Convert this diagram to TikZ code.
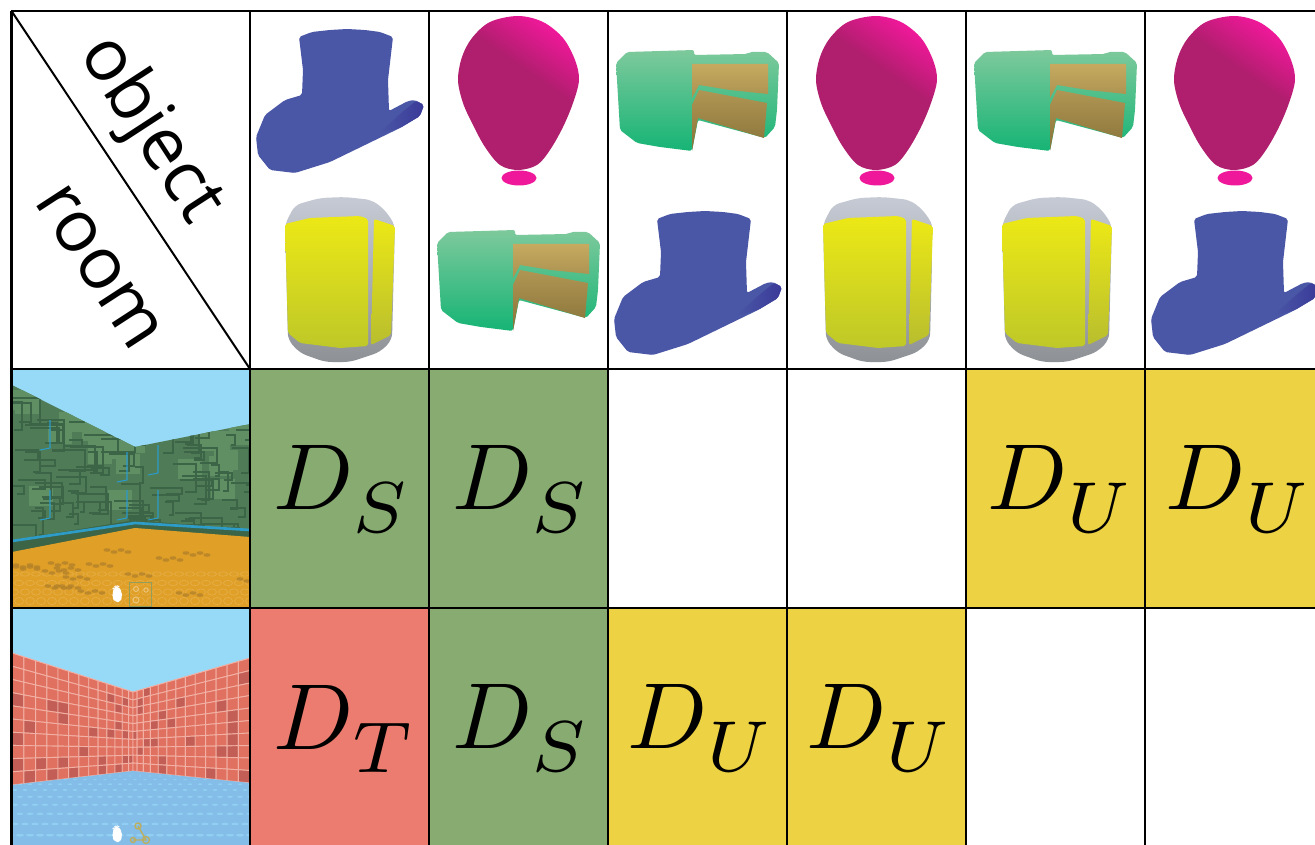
\documentclass[tikz,border=0pt]{standalone}
\usepackage{fontspec}
\usepackage{graphicx}
\newfontfamily\labelfont{Open Sans}
\definecolor{cellgreen}{HTML}{88AB72}
\definecolor{cellred}{HTML}{EC7C70}
\definecolor{cellyellow}{HTML}{EDD344}
\definecolor{hatblue}{HTML}{4A57A6}
\definecolor{hatdark}{HTML}{3A3A98}
\definecolor{sky}{HTML}{97DAF8}
\definecolor{tile}{HTML}{E0705F}
\definecolor{tiledark}{HTML}{C25E55}
\definecolor{tileline}{HTML}{F2B0A4}
\definecolor{wallgreen}{HTML}{5F8F62}
\definecolor{walldark}{HTML}{3C6446}
\definecolor{wallmid}{HTML}{4F7C56}
\definecolor{floorgold}{HTML}{E0A028}
\definecolor{floordark}{HTML}{B07F28}
\definecolor{floorblue}{HTML}{83BDE8}
\definecolor{balldark}{HTML}{B01E6E}
\definecolor{ballpink}{HTML}{F0189A}
\definecolor{stripblue}{HTML}{2E9CC8}
\pgfdeclareverticalshading{ballsh}{100bp}{color(0bp)=(balldark); color(58bp)=(balldark); color(76bp)=(ballpink); color(100bp)=(ballpink)}
\tikzset{
  x=0.75pt,y=-0.75pt,
  gridline/.style={draw=black,line width=1.7pt},
  dlabel/.style={anchor=base west,scale=7.03,inner sep=0pt,outer sep=0pt},
  hlabel/.style={font=\labelfont\fontsize{54}{54}\selectfont,inner sep=0pt,text=black},
  icon/.style={rounded corners=1.5pt},
}
\newcommand{\dtext}[1]{$D$\kern-0.1pt\raisebox{-2.5pt}{\scalebox{1.1}{$\scriptstyle #1$}}}
\newcommand{\drawtophat}[2]{\begin{scope}[shift={(#1,#2)}]
  \fill[hatblue,icon] (299,37)--(312,32)--(330,30)--(347,29)--(365,30)--(380,32)--(393,37)--(388,80)--(389,111)--(408,101)--(415,100)--(424,105)--(420,116)--(400,128)--(330,162)--(295,173)--(270,170)--(258,155)--(256,137)--(265,115)--(285,100)--(302,95)--(303,70)--cycle;
  \shade[left color=hatblue,right color=hatdark,icon] (378,134)--(400,114)--(416,101)--(424,105)--(420,116)--(400,128)--cycle;
\end{scope}}
\newcommand{\drawballoon}[2]{\begin{scope}[shift={(#1,#2)}]
  \shade[shading=ballsh,shading angle=-35] plot[smooth cycle,tension=0.55] coordinates {(518,16)(543,22)(563,38)(575,60)(579,80)(573,103)(563,127)(550,150)(537,165)(518,170)(500,165)(485,147)(473,125)(463,103)(458,80)(462,57)(472,38)(490,22)};
  \fill[ballpink] (519,178) ellipse [x radius=17.5,y radius=7.5];
\end{scope}}
\newcommand{\drawcake}[2]{\begin{scope}[shift={(#1,#2)}]
  \shade[top color={rgb,255:red,125;green,201;blue,156},bottom color={rgb,255:red,22;green,180;blue,117},icon] (616,63)--(627,52)--(694,50)--(694,55)--(747,54)--(750,52)--(767,52)--(779,63)--(777,110)--(775,127)--(765,138)--(698,120)--(692,151)--(660,147)--(637,143)--(620,130)--cycle;
  \shade[top color={rgb,255:red,198;green,170;blue,96},bottom color={rgb,255:red,170;green,145;blue,80}] (692,64)--(768,64)--(768,94)--(730,90)--(699,85)--(692,98)--cycle;
  \shade[top color={rgb,255:red,176;green,150;blue,84},bottom color={rgb,255:red,136;green,114;blue,56}] (699,90)--(767,103)--(764,138)--(698,118)--(692,151)--(692,105)--cycle;
\end{scope}}
\newcommand{\drawcan}[2]{\begin{scope}[shift={(#1,#2)}]
  \shade[top color={rgb,255:red,198;green,202;blue,212},bottom color={rgb,255:red,142;green,146;blue,150},rounded corners=5pt] (285,224)--(295,205)--(320,198)--(345,197)--(372,200)--(385,210)--(395,225)--(392,340)--(380,352)--(350,362)--(325,362)--(300,353)--(288,340)--cycle;
  \shade[top color={rgb,255:red,236;green,232;blue,22},bottom color={rgb,255:red,190;green,200;blue,40},icon] (285,224)--(310,218)--(360,216)--(368,219)--(368,346)--(340,348)--(300,343)--(288,333)--cycle;
  \shade[top color={rgb,255:red,236;green,232;blue,22},bottom color={rgb,255:red,184;green,190;blue,46},icon] (374,219)--(395,226)--(391,335)--(371,345)--cycle;
\end{scope}}
\newcommand{\drawhand}[2]{\fill[white,rounded corners=1.5pt,shift={(#1,#2)}] (-4,-1)--(-4,-6)--(-3,-6)--(-2.5,-8)--(-1.5,-8)--(-1,-9)--(0.5,-9)--(1,-8)--(2.5,-8)--(3,-5)--(5,-3)--(5,1)--(3.5,7)--(-2,7)--(-5,2)--cycle;}
% tiled wall: x0,dx,top0,dtop,bot0,dbot,mode
\newcommand{\tilewall}[7]{%
  \foreach \i in {0,...,12}{
    \foreach \j in {0,...,9}{
      \pgfmathsetmacro{\ua}{#7==1 ? 1-(1-\i/13)^1.3 : (\i/13)^1.3}
      \pgfmathsetmacro{\ub}{#7==1 ? 1-(1-(\i+1)/13)^1.3 : ((\i+1)/13)^1.3}
      \pgfmathsetmacro{\xa}{#1+#2*\ua}
      \pgfmathsetmacro{\xb}{#1+#2*\ub}
      \pgfmathsetmacro{\ta}{#3+#4*\ua}
      \pgfmathsetmacro{\tb}{#3+#4*\ub}
      \pgfmathsetmacro{\ba}{#5+#6*\ua}
      \pgfmathsetmacro{\bb}{#5+#6*\ub}
      \pgfmathsetmacro{\ya}{\ta+(\ba-\ta)*\j/10}
      \pgfmathsetmacro{\yb}{\tb+(\bb-\tb)*\j/10}
      \pgfmathsetmacro{\yc}{\tb+(\bb-\tb)*(\j+1)/10}
      \pgfmathsetmacro{\yd}{\ta+(\ba-\ta)*(\j+1)/10}
      \pgfmathrandominteger{\r}{1}{5}
      \ifnum\r=1 \def\tc{tiledark}\else\def\tc{tile}\fi
      \filldraw[fill=\tc,draw=tileline,line width=0.7pt] (\xa,\ya)--(\xb,\yb)--(\xb,\yc)--(\xa,\yd)--cycle;
    }
  }
}
\begin{document}
\begin{tikzpicture}
\useasboundingbox (0,0) rectangle (1315,845);
\fill[white] (0,0) rectangle (1315,845);
% coloured cells
\fill[cellgreen] (250,369) rectangle (429,608);
\fill[cellgreen] (429,369) rectangle (608,608);
\fill[cellyellow] (966,369) rectangle (1145,608);
\fill[cellyellow] (1145,369) rectangle (1315,608);
\fill[cellred] (250,608) rectangle (429,845);
\fill[cellgreen] (429,608) rectangle (608,845);
\fill[cellyellow] (608,608) rectangle (787,845);
\fill[cellyellow] (787,608) rectangle (966,845);
% objects
\drawtophat{0}{0}
\drawcan{0}{0}
\drawballoon{0}{0}
\drawcake{-179}{180}
\drawcake{0}{0}
\drawtophat{358}{182}
\drawballoon{358}{0}
\drawcan{538}{0}
\drawcake{358}{0}
\drawcan{717}{0}
\drawballoon{716}{0}
\drawtophat{895}{182}
% room 1
\begin{scope}
  \clip (12,369) rectangle (250,608);
  \fill[sky] (12,369) rectangle (250,608);
  \fill[walldark] (12,538)--(135,518)--(250,528)--(250,540)--(135,530)--(12,554)--cycle;
  \fill[wallmid] (12,385)--(135,447)--(250,424)--(250,530)--(135,520)--(12,540)--cycle;
  \begin{scope}
    \clip (12,385)--(135,447)--(250,424)--(250,530)--(135,520)--(12,540)--cycle;
    \pgfmathsetseed{11}
    \foreach \k in {1,...,26}{
      \pgfmathrandominteger{\px}{4}{240}
      \pgfmathrandominteger{\py}{385}{520}
      \fill[wallgreen] (\px,\py) rectangle ++(24,20);
    }
    \foreach \k in {1,...,110}{
      \pgfmathrandominteger{\px}{4}{250}
      \pgfmathrandominteger{\py}{385}{530}
      \pgfmathrandominteger{\pa}{8}{34}
      \pgfmathrandominteger{\pb}{6}{28}
      \draw[walldark,line width=0.8pt] (\px,\py)--++(\pa,0)--++(0,\pb)--++(-\pa/2,0);
    }
    \foreach \a/\b in {50/420,50/490,127/452,158/445,158/490,127/490}{
      \draw[cyan!80!black,line width=0.8pt] (\a,\b)--++(0,28)--++(-10,2);
    }
  \end{scope}
  \fill[floorgold] (12,552)--(135,528)--(250,537)--(250,608)--(12,608)--cycle;
  \draw[stripblue,line width=2pt] (12,541)--(135,523)--(250,530);
  \foreach \j in {0,1,2,3}{
    \foreach \i in {0,...,22}{
      \draw[floorgold!85!white,line width=0.5pt] ({14+\i*11+mod(\j,2)*5},{574+\j*9}) ellipse [x radius=4.5,y radius={2.2+\j*.5}];
    }
  }
  \pgfmathsetseed{5}
  \foreach \k in {1,...,16}{
    \pgfmathrandominteger{\px}{14}{240}
    \pgfmathrandominteger{\py}{550}{602}
    \foreach \m in {0,1,2,3}{
      \fill[floordark,opacity=.75] ({\px+\m*7},{\py+mod(\m,2)*2}) ellipse [x radius=3.6,y radius=1.8];
    }
  }
  \drawhand{117}{595}
  \draw[floordark!30!cellgreen,line width=0.5pt] (129,582) rectangle (151,606);
  \draw[floorgold!60!white,line width=0.7pt] (136,589) circle (2.5) (136,600) circle (3) (146,590) circle (2.2);
\end{scope}
% room 2
\begin{scope}
  \clip (12,608) rectangle (250,845);
  \fill[sky] (12,608) rectangle (250,845);
  \pgfmathsetseed{21}
  \tilewall{12}{121}{653}{39}{785}{-14}{1}
  \tilewall{133}{117}{692}{-34}{771}{12}{2}
  \fill[floorblue] (12,785)--(133,771)--(250,783)--(250,845)--(12,845)--cycle;
  \begin{scope}
    \clip (12,785)--(133,771)--(250,783)--(250,845)--(12,845)--cycle;
    \foreach \j in {0,...,8}{
      \foreach \i in {0,...,24}{
        \fill[sky,opacity=.65] ({10+\i*10+mod(\j,2)*5},{776+\j*\j*.55+\j*3}) ellipse [x radius={1.6+\j*.3},y radius={.6+\j*.1}];
      }
    }
  \end{scope}
  \drawhand{117}{835}
  \draw[cellyellow!55!gray,line width=1pt] (138,826) circle (3) (146,840) circle (3.5) (133,840) circle (2.5) (138,826)--(146,840)--(133,840);
\end{scope}
% grid
\draw[gridline] (11,11)--(1315,11);
\draw[gridline] (11,369)--(1315,369);
\draw[gridline] (11,608)--(1315,608);
\draw[gridline] (11.5,11)--(11.5,845);
\foreach \c in {250,429,608,787,966,1145}{\draw[gridline] (\c,11)--(\c,845);}
\coordinate (dgA) at (11.5,11);
\coordinate (dgB) at (250,369);
\draw[black,line width=1.5pt] (dgA)--(dgB);
% labels
\node[hlabel,rotate=-57] (objectlabel) at (150,130) {object};
\node[hlabel,rotate=-57] (roomlabel) at (99,267) {room};
\node[dlabel] (cellA) at (273,509) {\dtext{S}};
\node[dlabel] (cellB) at (452,509) {\dtext{S}};
\node[dlabel] (cellC) at (987,509) {\dtext{U}};
\node[dlabel] (cellD) at (1165,509) {\dtext{U}};
\node[dlabel] (cellE) at (273,749) {\dtext{T}};
\node[dlabel] (cellF) at (452,748) {\dtext{S}};
\node[dlabel] (cellG) at (627,748) {\dtext{U}};
\node[dlabel] (cellH) at (806,748) {\dtext{U}};
\end{tikzpicture}
\end{document}
